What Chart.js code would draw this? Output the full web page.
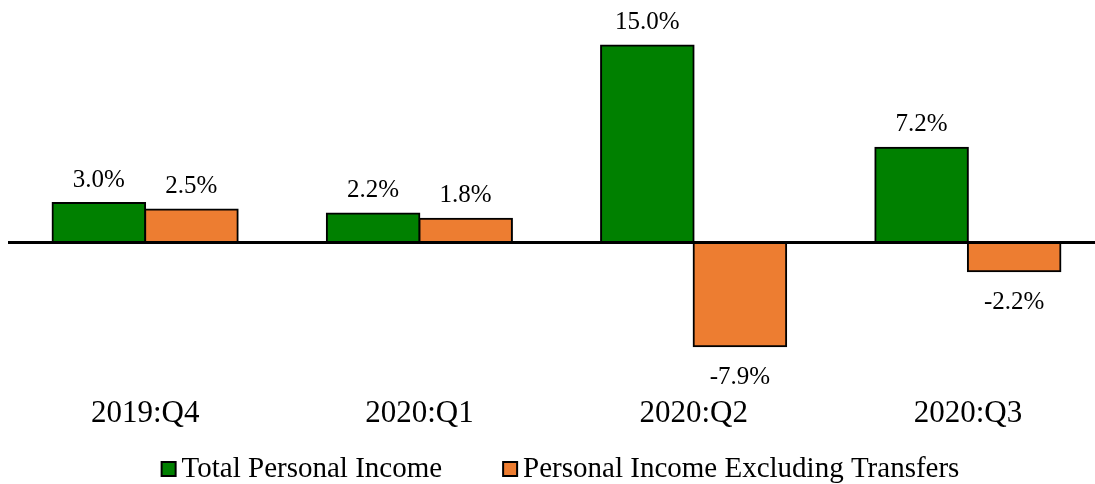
<!DOCTYPE html>
<html>
<head>
<meta charset="utf-8">
<script src="https://cdn.jsdelivr.net/npm/chart.js@4.4.1/dist/chart.umd.min.js"></script>
<style>
  html, body { margin: 0; padding: 0; background: #fff; overflow: hidden; }
  #wrap { width: 1105px; height: 484px; }
</style>
</head>
<body>
<div id="wrap"><canvas id="chart" width="1105" height="484"></canvas></div>
<script>
const quarters = ["2019:Q4", "2020:Q1", "2020:Q2", "2020:Q3"];
const totalIncome = [3.0, 2.2, 15.0, 7.2];
const incomeExTransfers = [2.5, 1.8, -7.9, -2.2];
const seriesNames = ["Total Personal Income", "Personal Income Excluding Transfers"];
const seriesColors = ["#008000", "#ED7D31"];

const FONT = "'Liberation Serif', 'Times New Roman', serif";

// value labels above / below each bar
const barLabels = {
  id: "barLabels",
  afterDatasetsDraw(chart) {
    const ctx = chart.ctx;
    ctx.save();
    ctx.font = "25px " + FONT;
    ctx.fillStyle = "#000";
    ctx.textAlign = "center";
    ctx.textBaseline = "middle";
    chart.data.datasets.forEach((ds, di) => {
      const meta = chart.getDatasetMeta(di);
      meta.data.forEach((bar, i) => {
        const v = ds.data[i];
        const y = v >= 0 ? bar.y - 23 : bar.y + 31;
        ctx.fillText(v.toFixed(1) + "%", bar.x, y);
      });
    });
    // zero line on top of the bar edges
    const ys = chart.scales.y.getPixelForValue(0);
    ctx.beginPath();
    ctx.lineWidth = 3;
    ctx.strokeStyle = "#000";
    ctx.moveTo(chart.chartArea.left, ys);
    ctx.lineTo(chart.chartArea.right, ys);
    ctx.stroke();
    ctx.restore();
  }
};

// legend drawn by hand so the box/text gap is tight
const bottomLegend = {
  id: "bottomLegend",
  afterDraw(chart) {
    const ctx = chart.ctx;
    ctx.save();
    ctx.font = "29px " + FONT;
    const box = 14, gap = 6, itemGap = 61;
    const widths = seriesNames.map(n => box + gap + ctx.measureText(n).width);
    const total = widths.reduce((a, b) => a + b, 0) + itemGap * (widths.length - 1);
    let x = chart.width / 2 + 8 - total / 2;
    const cy = 469;
    seriesNames.forEach((name, i) => {
      ctx.fillStyle = seriesColors[i];
      ctx.fillRect(x, cy - box / 2, box, box);
      ctx.lineWidth = 2;
      ctx.strokeStyle = "#000";
      ctx.strokeRect(x, cy - box / 2, box, box);
      ctx.fillStyle = "#000";
      ctx.textAlign = "left";
      ctx.textBaseline = "middle";
      ctx.fillText(name, x + box + gap, cy);
      x += widths[i] + itemGap;
    });
    ctx.restore();
  }
};

new Chart(document.getElementById("chart"), {
  type: "bar",
  data: {
    labels: quarters,
    datasets: [
      {
        label: seriesNames[0],
        data: totalIncome,
        backgroundColor: seriesColors[0],
        borderColor: "#000",
        borderWidth: 2,
        borderSkipped: false,
        inflateAmount: 1
      },
      {
        label: seriesNames[1],
        data: incomeExTransfers,
        backgroundColor: seriesColors[1],
        borderColor: "#000",
        borderWidth: 2,
        borderSkipped: false,
        inflateAmount: 1
      }
    ]
  },
  options: {
    responsive: false,
    animation: false,
    categoryPercentage: 0.675,
    barPercentage: 1,
    layout: { padding: { top: 6, left: 8, right: 0, bottom: 31 } },
    plugins: {
      legend: { display: false },
      tooltip: { enabled: false }
    },
    scales: {
      x: {
        grid: { display: false, drawTicks: false },
        border: { display: false },
        ticks: { color: "#000", font: { family: FONT, size: 31 }, padding: 21 }
      },
      y: {
        display: false,
        min: -10,
        max: 18
      }
    }
  },
  plugins: [barLabels, bottomLegend]
});
</script>
</body>
</html>
